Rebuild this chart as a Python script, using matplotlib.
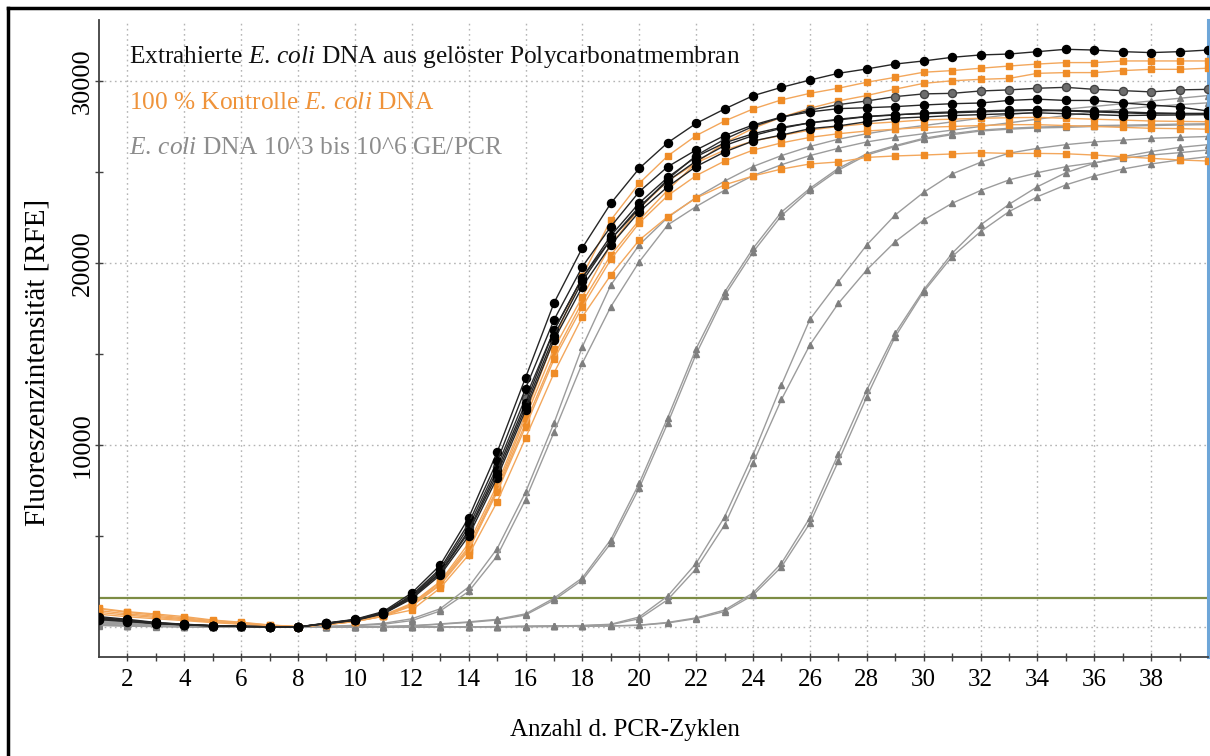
import matplotlib
matplotlib.use("Agg")
import matplotlib.pyplot as plt
from matplotlib.lines import Line2D

plt.rcParams['font.family'] = ['Liberation Serif', 'DejaVu Serif']
plt.rcParams['mathtext.fontset'] = 'custom'
plt.rcParams['mathtext.rm'] = 'Liberation Serif'
plt.rcParams['mathtext.it'] = 'Liberation Serif:italic'

# ---------------- data ----------------
cycles = list(range(1, 41))
x_tick_labels = [str(c) for c in range(2, 39, 2)]
y_tick_values = [10000, 20000, 30000]
threshold = 1600

# Extrahierte E. coli DNA (black circles)
b1 = [570, 420, 250, 150, 80, 40, 10, 0, 220, 420,
      850, 1870, 3400, 6000, 9600, 13700, 17800, 20840, 23280, 25200,
      26610, 27670, 28460, 29190, 29650, 30050, 30420, 30660, 30930, 31100,
      31300, 31430, 31480, 31610, 31740, 31700, 31610, 31560, 31610, 31700]
b2 = [450, 330, 200, 120, 60, 30, 10, 0, 200, 400,
      780, 1700, 3100, 5500, 8800, 12600, 16300, 19200, 21300, 23000,
      24600, 25900, 26800, 27500, 28000, 28400, 28700, 28900, 29140, 29290,
      29320, 29450, 29510, 29600, 29650, 29540, 29470, 29400, 29510, 29540]
b3 = [520, 380, 230, 140, 70, 30, 10, 0, 200, 400,
      800, 1750, 3200, 5700, 9100, 13100, 16870, 19800, 22000, 23920,
      25290, 26210, 27000, 27580, 28020, 28300, 28480, 28530, 28590, 28680,
      28750, 28790, 28930, 29000, 28930, 28930, 28790, 28680, 28570, 28350]
b4 = [480, 360, 220, 130, 70, 30, 10, 0, 190, 380,
      760, 1650, 3000, 5300, 8600, 12300, 16300, 19200, 21500, 23300,
      24700, 25840, 26600, 27100, 27450, 27700, 27860, 28040, 28130, 28240,
      28300, 28350, 28400, 28420, 28380, 28350, 28300, 28250, 28220, 28220]
b5 = [400, 300, 180, 110, 60, 30, 10, 0, 180, 360,
      720, 1550, 2850, 5000, 8200, 11900, 15770, 18700, 20990, 22820,
      24190, 25300, 26100, 26700, 27030, 27380, 27530, 27760, 27950, 28020,
      28100, 28150, 28200, 28250, 28200, 28150, 28100, 28120, 28130, 28150]
b6 = [430, 320, 200, 120, 60, 30, 10, 0, 190, 370,
      740, 1600, 2950, 5200, 8400, 12100, 16000, 19000, 21300, 23100,
      24500, 25600, 26450, 27000, 27400, 27700, 27900, 28050, 28150, 28200,
      28250, 28300, 28350, 28400, 28350, 28300, 28250, 28200, 28200, 28200]

# 100 % Kontrolle (orange squares)
o1 = [1030, 840, 710, 570, 380, 260, 110, 20, 150, 330,
      650, 1300, 2500, 4600, 7800, 11700, 15800, 19300, 22360, 24380,
      25880, 27000, 27800, 28460, 28960, 29320, 29600, 29930, 30200, 30480,
      30570, 30700, 30820, 30930, 31010, 31010, 31100, 31100, 31100, 31100]
o2 = [900, 720, 580, 450, 300, 180, 80, 10, 130, 300,
      580, 1150, 2300, 4200, 7500, 11200, 14900, 17870, 20440, 22360,
      24000, 25500, 26600, 27400, 28000, 28500, 28900, 29200, 29550, 29870,
      30010, 30090, 30140, 30420, 30460, 30460, 30570, 30640, 30640, 30700]
o3 = [800, 650, 520, 400, 270, 170, 70, 10, 140, 320,
      620, 1250, 2450, 4400, 7600, 11500, 15300, 18150, 21000, 23000,
      24500, 25500, 26200, 26700, 27000, 27300, 27500, 27650, 27750, 27860,
      27900, 27950, 27980, 28000, 27950, 27900, 27850, 27800, 27780, 27760]
o4 = [700, 560, 450, 350, 240, 150, 60, 10, 130, 300,
      600, 1200, 2350, 4300, 7400, 11000, 14700, 17600, 20200, 22200,
      23700, 24800, 25600, 26200, 26600, 26900, 27100, 27250, 27350, 27450,
      27500, 27550, 27600, 27600, 27550, 27500, 27450, 27400, 27380, 27350]
o5 = [1000, 800, 650, 500, 350, 230, 100, 10, 130, 300,
      600, 930, 2140, 3960, 6870, 10380, 13950, 17050, 19340, 21260,
      22540, 23570, 24290, 24780, 25160, 25440, 25550, 25800, 25880, 25930,
      25990, 26060, 26020, 26020, 26000, 25930, 25840, 25750, 25660, 25600]

# E. coli DNA 10^3 bis 10^6 GE/PCR (gray triangles)
ga1 = [350, 260, 170, 100, 50, 20, 0, 0, 30, 90,
       200, 450, 1000, 2200, 4300, 7400, 11200, 15400, 18790, 21000,
       22500, 23600, 24500, 25300, 25900, 26400, 26800, 27100, 27350, 27550,
       27750, 27950, 28150, 28300, 28450, 28600, 28750, 28900, 29050, 29200]
ga2 = [300, 220, 140, 80, 40, 10, 0, 0, 20, 70,
       150, 350, 880, 1950, 3900, 7000, 10700, 14500, 17600, 20070,
       22090, 23100, 24000, 24800, 25400, 25900, 26300, 26650, 26900, 27100,
       27300, 27500, 27700, 27900, 28100, 28300, 28450, 28600, 28700, 28800]
gb1 = [250, 180, 120, 80, 40, 20, 0, 0, 0, 10,
       20, 60, 150, 250, 380, 660, 1480, 2580, 4600, 7640,
       11200, 15000, 18200, 20600, 22600, 24000, 25100, 25930, 26400, 26800,
       27050, 27250, 27350, 27420, 27450, 27500, 27520, 27550, 27580, 27600]
gb2 = [220, 160, 100, 60, 30, 10, 0, 0, 0, 10,
       25, 70, 170, 280, 420, 720, 1580, 2700, 4800, 7900,
       11500, 15300, 18400, 20800, 22800, 24100, 25200, 26000, 26450, 26850,
       27100, 27300, 27400, 27470, 27500, 27550, 27570, 27600, 27630, 27650]
gc1 = [150, 100, 60, 30, 10, 0, 0, 0, 0, 0,
       0, 0, 0, 10, 20, 40, 60, 80, 150, 550,
       1700, 3500, 6050, 9450, 13300, 16900, 18970, 20990, 22640, 23880,
       24890, 25530, 26030, 26300, 26500, 26650, 26750, 26850, 26900, 26950]
gc2 = [120, 80, 50, 20, 0, 0, 0, 0, 0, 0,
       0, 0, 0, 10, 20, 30, 50, 70, 130, 450,
       1500, 3200, 5600, 9000, 12500, 15500, 17780, 19620, 21170, 22360,
       23280, 23980, 24560, 24960, 25290, 25510, 25750, 25930, 26060, 26210]
gd1 = [100, 60, 30, 10, 0, 0, 0, 0, 0, 0,
       0, 0, 0, 0, 10, 20, 30, 40, 60, 100,
       250, 500, 930, 1870, 3500, 6000, 9500, 13020, 16140, 18520,
       20530, 22090, 23220, 24190, 24960, 25480, 25840, 26120, 26350, 26500]
gd2 = [80, 50, 20, 0, 0, 0, 0, 0, 0, 0,
       0, 0, 0, 0, 10, 20, 30, 40, 50, 90,
       220, 460, 850, 1750, 3300, 5700, 9100, 12650, 15950, 18420,
       20350, 21720, 22820, 23640, 24290, 24780, 25160, 25440, 25660, 25840]

black_curves = [b1, b3, b4, b5, b6]
darkgray_curves = [b2]
orange_curves = [o1, o2, o3, o4, o5]
gray_curves = [ga1, ga2, gb1, gb2, gc1, gc2, gd1, gd2]

legend_lines = [
    r"Extrahierte $\mathit{E.\,coli}$ DNA aus gelöster Polycarbonatmembran",
    r"100 % Kontrolle $\mathit{E.\,coli}$ DNA",
    r"$\mathit{E.\,coli}$ DNA 10^3 bis 10^6 GE/PCR",
]

# ---------------- figure ----------------
W, H = 1210, 756
fig = plt.figure(figsize=(W / 100, H / 100), dpi=100)
fig.patch.set_facecolor('white')
L, R, T, B = 99, 1208, 20, 657
ax = fig.add_axes([L / W, 1 - B / H, (R - L) / W, (B - T) / H])
ax.set_xlim(1, 40)
ax.set_ylim(-1650, 33350)

# grid
grid_style = dict(color='#b4b4b4', lw=1.0, linestyle=(0, (1.2, 2.5)), zorder=0)
for gx in range(2, 39, 2):
    ax.axvline(gx, **grid_style)
for gy in [0, 10000, 20000, 30000]:
    ax.axhline(gy, **grid_style)

ax.axhline(threshold, color='#7d8c44', lw=1.6, zorder=1)

for ys in gray_curves:
    ax.plot(cycles, ys, color='#9c9c9c', lw=1.0, marker='^', ms=5,
            mfc='#7f7f7f', mec='#7f7f7f', zorder=2)
for ys in orange_curves:
    ax.plot(cycles, ys, color='#f3a75c', lw=1.0, marker='s', ms=4.8,
            mfc='#ef8c27', mec='#ef8c27', zorder=3)
for ys in darkgray_curves:
    ax.plot(cycles, ys, color='#303030', lw=1.0, marker='o', ms=5.8,
            mfc='#6d6d6d', mec='#444444', zorder=4)
for ys in black_curves:
    ax.plot(cycles, ys, color='#262626', lw=1.0, marker='o', ms=5.8,
            mfc='black', mec='black', zorder=5)

# axes styling
ax.spines['top'].set_visible(False)
ax.spines['right'].set_color('#6ea6d8')
ax.spines['right'].set_linewidth(2.2)
ax.spines['left'].set_color('#404040')
ax.spines['bottom'].set_color('#404040')
ax.spines['left'].set_linewidth(1.3)
ax.spines['bottom'].set_linewidth(1.3)

ax.set_xticks(list(range(2, 39, 2)))
ax.set_xticklabels(x_tick_labels)
ax.set_xticks(list(range(3, 40, 2)), minor=True)
ax.set_yticks(y_tick_values)
ax.set_yticklabels([str(v) for v in y_tick_values], rotation=90, va='center',
                   fontsize=19)
ax.set_yticks([5000, 15000, 25000], minor=True)
ax.tick_params(axis='both', which='both', direction='inout', length=6,
               width=1, color='#404040')
ax.tick_params(axis='x', labelsize=18, pad=6)
ax.tick_params(axis='y', pad=1)
ax.tick_params(right=False)

# axis titles
fig.text(38 / W, 1 - 362 / H, 'Fluoreszenzintensität [RFE]', rotation=90,
         ha='center', va='center', fontsize=21)
fig.text(625 / W, 1 - 730 / H, 'Anzahl d. PCR-Zyklen', ha='center',
         va='center', fontsize=18)

# legend texts
leg_colors = ['#111111', '#ef933a', '#8c8c8c']
leg_y = [63, 109, 154]
for txt, col, yy in zip(legend_lines, leg_colors, leg_y):
    fig.text(129 / W, 1 - yy / H, txt, color=col, fontsize=18.3,
             ha='left', va='baseline')

# outer frame
fig.add_artist(Line2D([8 / W, 8 / W], [0, 1 - 8 / H], color='black', lw=2.5,
                      transform=fig.transFigure))
fig.add_artist(Line2D([8 / W, 1], [1 - 8 / H, 1 - 8 / H], color='black', lw=2.5,
                      transform=fig.transFigure))

fig.savefig('out.png', dpi=100)
